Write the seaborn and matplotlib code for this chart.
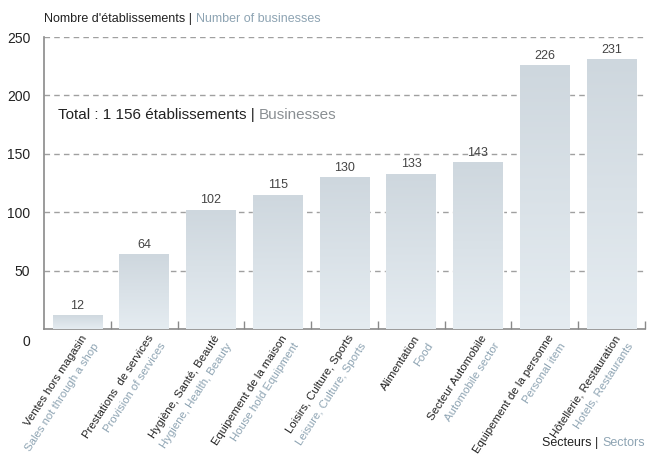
import numpy as np
import pandas as pd
import matplotlib
matplotlib.use("Agg")
import matplotlib.pyplot as plt
import matplotlib.transforms as mtransforms
from matplotlib.colors import LinearSegmentedColormap
from matplotlib.ticker import FixedLocator
import seaborn as sns

# Données
secteurs_fr = ["Ventes hors magasin", "Prestations  de services", "Hygiène, Santé, Beauté",
               "Equipement de la maison", "Loisirs, Culture, Sports", "Alimentation",
               "Secteur Automobile", "Equipement de la personne", "Hôtellerie, Restauration"]
secteurs_en = ["Sales not through a shop", "Provision of services", "Hygiene, Health, Beauty",
               "House hold Equipment", "Leisure, Culture, Sports", "Food",
               "Automobile sector", "Personal item", "Hotels, Restaurants"]
nombre = [12, 64, 102, 115, 130, 133, 143, 226, 231]
y_ticks = [0, 50, 100, 150, 200, 250]

df = pd.DataFrame({"secteur": secteurs_fr, "nombre": nombre})

sns.set_style("white")
plt.rcParams["font.family"] = ["Liberation Sans", "DejaVu Sans"]

DARK = "#222222"
BLUE = "#8ea4b3"
GREY = "#8a8f93"

fig = plt.figure(figsize=(6.48, 4.54), dpi=100)
ax = fig.add_axes([0.068, 0.275, 0.927, 0.6435])

sns.barplot(data=df, x="secteur", y="nombre", color="#dbe3e9", width=0.74,
            saturation=1, ax=ax, zorder=2)

# Dégradé vertical dans chaque barre
cmap = LinearSegmentedColormap.from_list("grad", ["#e5ecf1", "#ced7de"])
grad = np.linspace(0, 1, 256).reshape(-1, 1)
for bar in ax.patches:
    x0, y0 = bar.get_x(), bar.get_y()
    w, h = bar.get_width(), bar.get_height()
    im = ax.imshow(grad, cmap=cmap, aspect="auto", origin="lower",
                   extent=[x0, x0 + w, y0, y0 + h], zorder=3)
    im.set_clip_path(bar)
    ax.text(x0 + w / 2, h + 3, f"{int(h)}", ha="center", va="bottom",
            fontsize=9, color="#444444", zorder=4)

ax.set_xlim(-0.5, len(nombre) - 0.5)
ax.set_ylim(0, 250)
ax.set_yticks(y_ticks)
ax.set_yticklabels([str(v) for v in y_ticks], fontsize=10, color=DARK)
ax.tick_params(axis="y", length=0, pad=10)
# décaler le label 0 vers le bas
lab0 = ax.get_yticklabels()[0]
lab0.set_transform(lab0.get_transform() + mtransforms.ScaledTranslation(0, -8 / 72, fig.dpi_scale_trans))

for v in y_ticks[1:]:
    ax.axhline(v, color="#a0a0a0", lw=1, ls=(0, (4, 3)), zorder=1)

# petites graduations entre les barres
ax.set_xticks([])
ax.xaxis.set_minor_locator(FixedLocator(np.arange(0.5, len(nombre), 1)))
ax.tick_params(axis="x", which="minor", direction="in", length=6, width=1,
               color="#8a8a8a", bottom=True)
ax.set_xlabel("")
ax.set_ylabel("")

for side in ["top", "right"]:
    ax.spines[side].set_visible(False)
for side in ["left", "bottom"]:
    ax.spines[side].set_color("#8a8a8a")
    ax.spines[side].set_linewidth(1.2)

# Étiquettes des secteurs (deux lignes, FR + EN)
rot = 57
ang = np.deg2rad(rot)
dx, dy = 10.5 * np.sin(ang), -10.5 * np.cos(ang)
for i, (fr, en) in enumerate(zip(secteurs_fr, secteurs_en)):
    ax.annotate(fr, xy=(i, 0), xycoords=("data", "axes fraction"),
                xytext=(2, -3), textcoords="offset points",
                rotation=rot, rotation_mode="anchor", ha="right", va="top",
                fontsize=8.2, color=DARK)
    ax.annotate(en, xy=(i, 0), xycoords=("data", "axes fraction"),
                xytext=(2 + dx, -3 + dy), textcoords="offset points",
                rotation=rot, rotation_mode="anchor", ha="right", va="top",
                fontsize=8.2, color=BLUE)

# Textes
t = fig.text(0.068, 0.958, "Nombre d'établissements | ", fontsize=9, color=DARK, va="center")
fig.canvas.draw()
bb = t.get_window_extent()
fig.text(bb.x1 / fig.bbox.width, 0.958, "Number of businesses", fontsize=9, color=BLUE, va="center")

t2 = ax.text(0.023, 0.733, "Total : 1 156 établissements | ", transform=ax.transAxes,
             fontsize=11, color=DARK, va="center")
fig.canvas.draw()
bb2 = t2.get_window_extent()
inv = ax.transAxes.inverted()
x_end = inv.transform((bb2.x1, bb2.y0))[0]
ax.text(x_end, 0.733, "Businesses", transform=ax.transAxes, fontsize=11, color=GREY, va="center")

t3 = fig.text(0.995, 0.012, "Sectors", fontsize=9, color=BLUE, ha="right", va="bottom")
fig.canvas.draw()
bb3 = t3.get_window_extent()
fig.text(bb3.x0 / fig.bbox.width, 0.012, "Secteurs | ", fontsize=9, color=DARK, ha="right", va="bottom")

fig.savefig("out.png", dpi=100)
